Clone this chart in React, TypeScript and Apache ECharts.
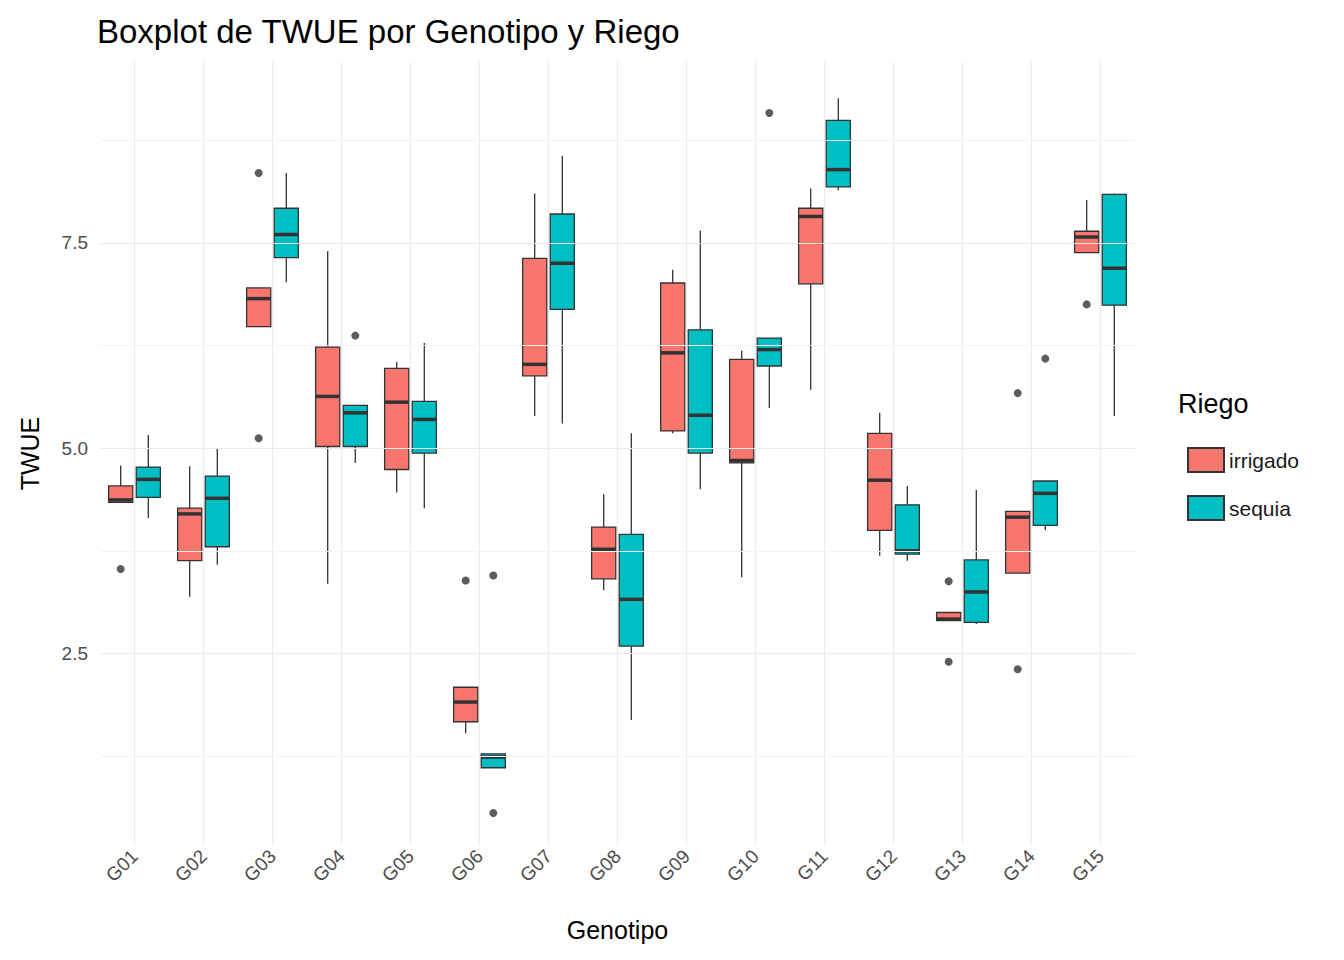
import React, { useEffect, useRef } from "react";
import * as echarts from "echarts";

const categories = ["G01","G02","G03","G04","G05","G06","G07","G08","G09","G10","G11","G12","G13","G14","G15"];
// [low, q1, median, q3, high]
const irrigado = [
  [4.34,4.34,4.37,4.54,4.79],[3.19,3.63,4.2,4.27,4.78],[6.48,6.48,6.82,6.95,6.95],[3.35,5.02,5.63,6.23,7.4],
  [4.46,4.74,5.56,5.97,6.05],[1.53,1.67,1.91,2.09,2.09],[5.39,5.88,6.02,7.31,8.1],[3.27,3.41,3.77,4.04,4.44],
  [5.18,5.21,6.16,7.01,7.17],[3.43,4.82,4.85,6.08,6.19],[5.71,7.0,7.82,7.92,8.16],[3.69,4.0,4.61,5.18,5.43],
  [2.9,2.9,2.92,3.0,3.0],[3.48,3.48,4.16,4.23,4.23],[7.38,7.38,7.57,7.64,8.02]
];
const sequia = [
  [4.15,4.4,4.62,4.77,5.16],[3.58,3.8,4.39,4.66,5.0],[7.02,7.32,7.6,7.92,8.35],[4.82,5.02,5.43,5.52,5.52],
  [4.27,4.94,5.35,5.57,6.28],[1.11,1.11,1.24,1.28,1.28],[5.3,6.69,7.25,7.85,8.56],[1.69,2.59,3.16,3.95,5.18],
  [4.5,4.94,5.4,6.44,7.65],[5.49,6.0,6.2,6.34,6.34],[8.14,8.18,8.39,8.99,9.26],[3.63,3.71,3.75,4.31,4.54],
  [2.86,2.88,3.25,3.64,4.49],[4.0,4.06,4.45,4.6,4.6],[5.39,6.74,7.19,8.09,8.1]
];
// [categoryIndex, value]
const outliersIrr = [[0,3.53],[2,8.35],[2,5.12],[5,3.39],[12,3.38],[12,2.4],[13,5.67],[13,2.31],[14,6.75]];
const outliersSeq = [[3,6.37],[5,3.45],[5,0.56],[9,9.08],[13,6.09]];
const yLabels = [2.5, 5.0, 7.5];
const yGrid = [1.25, 2.5, 3.75, 5, 6.25, 7.5, 8.75];

const OFF = 0.2;
const HALF = 0.175;

function boxSeries(name: string, data: number[][], color: string, off: number) {
  return {
    name, type: "custom", xAxisIndex: 0, yAxisIndex: 0, color,
    itemStyle: { color, borderColor: "#333", borderWidth: 1.2 },
    encode: { x: 0, y: [1, 2, 3, 4, 5] },
    data: data.map((d, i) => [i, ...d]),
    renderItem: (params: any, api: any) => {
      const x = api.value(0) + off;
      const lo = api.coord([x, api.value(1)]);
      const q1 = api.coord([x, api.value(2)]);
      const md = api.coord([x, api.value(3)]);
      const q3 = api.coord([x, api.value(4)]);
      const hi = api.coord([x, api.value(5)]);
      const hw = api.size([HALF, 0])[0];
      const cx = md[0];
      const ls = { stroke: "#333", lineWidth: 1.3 };
      return {
        type: "group",
        children: [
          { type: "line", shape: { x1: cx, y1: hi[1], x2: cx, y2: q3[1] }, style: ls },
          { type: "line", shape: { x1: cx, y1: q1[1], x2: cx, y2: lo[1] }, style: ls },
          { type: "rect", shape: { x: cx - hw, y: q3[1], width: hw * 2, height: q1[1] - q3[1] }, style: { fill: color, stroke: "#333", lineWidth: 1.3 } },
          { type: "line", shape: { x1: cx - hw, y1: md[1], x2: cx + hw, y2: md[1] }, style: { stroke: "#333", lineWidth: 3.5 } },
        ],
      };
    },
  };
}

export default function App() {
  const ref = useRef<HTMLDivElement>(null);
  useEffect(() => {
    const chart = echarts.init(ref.current!, null, { renderer: "svg" });
    const font = "Arial, Liberation Sans, sans-serif";
    chart.setOption({
      animation: false,
      textStyle: { fontFamily: font },
      title: { text: "Boxplot de TWUE por Genotipo y Riego", left: 84, top: 2, textStyle: { fontSize: 33, fontWeight: "normal", color: "#000", fontFamily: font } },
      grid: { left: 92, right: 201, top: 54, bottom: 107 },
      legend: {
        data: ["irrigado", "sequia"], orient: "vertical", left: 1174, top: 434, itemGap: 22,
        itemWidth: 36, itemHeight: 24, icon: "rect",
        textStyle: { fontSize: 21, color: "#1a1a1a", fontFamily: font },
      },
      graphic: [{ type: "text", left: 1170, top: 382, style: { text: "Riego", fontSize: 27, fill: "#000", fontFamily: font } }],
      xAxis: [
        {
          type: "value", min: -0.5, max: 14.5, interval: 1,
          axisLine: { show: false }, axisTick: { show: false }, splitLine: { show: false },
          axisLabel: {
            rotate: 45, fontSize: 19, color: "#4d4d4d", margin: 8,
            customValues: categories.map((_, i) => i),
            formatter: (v: number) => categories[Math.round(v)] ?? "",
          },
          name: "Genotipo", nameLocation: "middle", nameGap: 72,
          nameTextStyle: { fontSize: 25, color: "#000" },
        },
      ],
      yAxis: {
        type: "value", min: 0.17, max: 9.7,
        axisLine: { show: false }, axisTick: { show: false }, splitLine: { show: false },
        axisLabel: { customValues: yLabels, formatter: (v: number) => v.toFixed(1), fontSize: 19, color: "#4d4d4d", margin: 12 },
        name: "TWUE", nameLocation: "middle", nameGap: 58, nameRotate: 90,
        nameTextStyle: { fontSize: 25, color: "#000" },
      },
      series: [
        {
          type: "scatter", data: [], silent: true,
          markLine: {
            silent: true, symbol: "none", label: { show: false },
            lineStyle: { color: "#ebebeb", width: 1.2, type: "solid" },
            data: [
              ...categories.map((_, i) => ({ xAxis: i })),
              ...yGrid.map((v) => ({ yAxis: v, lineStyle: { color: yLabels.includes(v) ? "#ebebeb" : "#f3f3f3" } })),
            ],
          },
        },
        boxSeries("irrigado", irrigado, "#F8766D", -OFF),
        boxSeries("sequia", sequia, "#00BFC4", OFF),
        {
          type: "scatter", symbolSize: 8, itemStyle: { color: "#333" }, silent: true,
          data: [...outliersIrr.map((d) => [d[0] - OFF, d[1]]), ...outliersSeq.map((d) => [d[0] + OFF, d[1]])],
        },
      ],
    });
    return () => chart.dispose();
  }, []);
  return <div ref={ref} style={{ width: 1328, height: 944 }} />;
}
